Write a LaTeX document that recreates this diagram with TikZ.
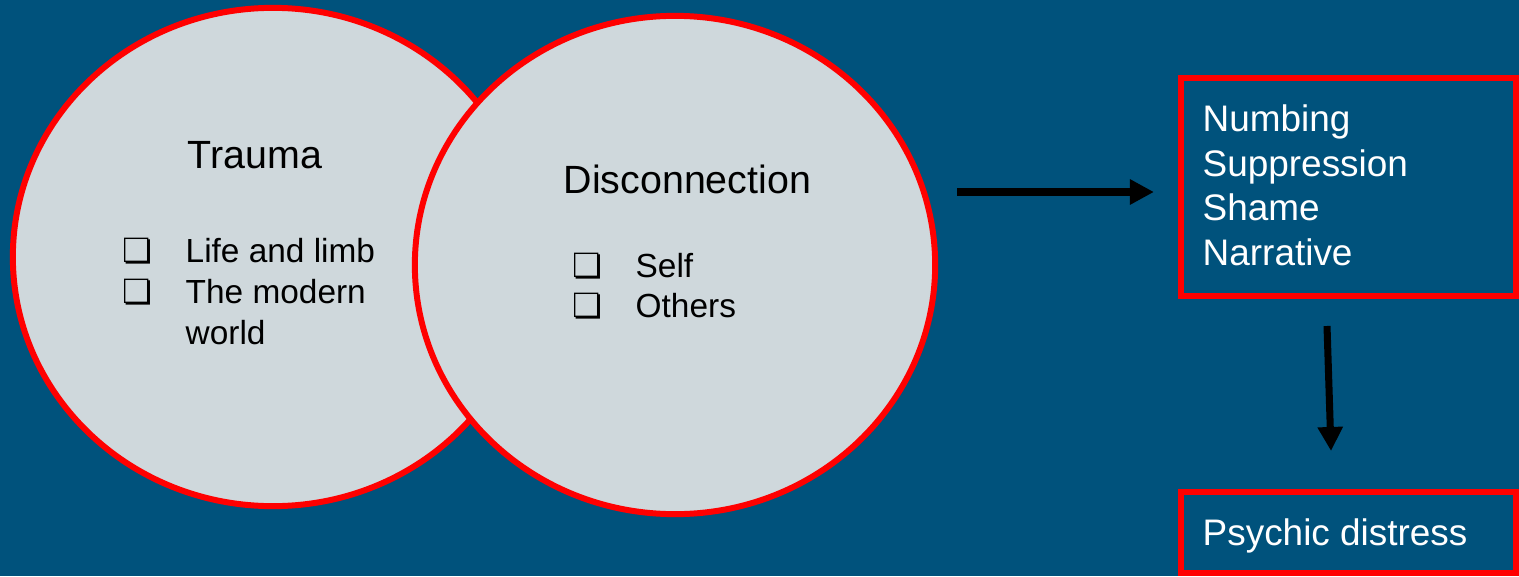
\documentclass[tikz,border=0pt]{standalone}
\usepackage{fontspec}
\setmainfont{Liberation Sans}
\newfontfamily\boxsym{DejaVu Sans}
\usetikzlibrary{shapes.geometric}
\usetikzlibrary{arrows.meta}
\definecolor{slide}{RGB}{0,82,124}
\definecolor{disc}{RGB}{207,216,220}
\definecolor{rim}{RGB}{255,0,0}
\tikzset{
	venn/.style={ellipse, draw=rim, fill=disc, line width=1.7pt, minimum width=5.2cm, minimum height=4.98cm, inner sep=0pt},
	outcome/.style={rectangle, draw=rim, line width=1.7pt, minimum width=3.35cm, inner sep=0pt},
	head/.style={font=\fontsize{11.2}{13}\selectfont, inner sep=0pt, anchor=base west},
	item/.style={font=\fontsize{9.5}{11.58}\selectfont, inner sep=0pt, anchor=base west, align=left},
	listing/.style={text=white, font=\fontsize{10.5}{12.64}\selectfont, inner sep=0pt, anchor=base west, align=left},
	flow/.style={line width=2pt, -{Triangle[length=0.24cm,width=0.24cm]}}
}
\newcommand{\boxitem}[5] % name, x in px, box baseline y, text baseline y (last line), text
{
	% ticked box
	\node[item] (#1b) at (#2,#3) {\boxsym ❏};
	% item text
	\node[item] (#1) at (#2+63,#4) {#5};
}
\begin{document}
\begin{tikzpicture}[x=0.01cm, y=-0.01cm]
	% slide 1519 x 576 px, y downwards
	\fill[slide] (0,0) rectangle (1519,576);
	\useasboundingbox (0,0) rectangle (1519,576);
	% the two discs
	\node[venn] (trauma) at (273,257) {};
	\node[venn] (disconn) at (675,265) {};
	\node[head] (traumat) at (187,169) {Trauma};
	\node[head] (disconnt) at (563,193) {Disconnection};
	\boxitem{life}{122}{262.7}{262.7}{Life and limb}
	\boxitem{modern}{122}{303.3}{344}{The modern\\world}
	\boxitem{self}{572}{277}{277}{Self}
	\boxitem{others}{572}{317}{317}{Others}
	
	% outcome boxes
	\node[outcome, minimum height=2.18cm] (coping) at (1348.5,187) {};
	\node[listing] (copingt) at (1202,265) {Numbing\\Suppression\\Shame\\Narrative};
	\node[outcome, minimum height=0.81cm] (distress) at (1348.5,532.5) {};
	\node[listing] (distresst) at (1202,545) {Psychic distress};
	
	% arrows
	\coordinate (flowa) at (957,192);
	\draw[flow, shorten >=0.24cm] (flowa) -- (flowa -| coping.west);
	\coordinate (flowb) at (1327,326);
	\coordinate (flowc) at (1331,451);
	\draw[flow] (flowb) -- (flowc);
\end{tikzpicture}
\end{document}
